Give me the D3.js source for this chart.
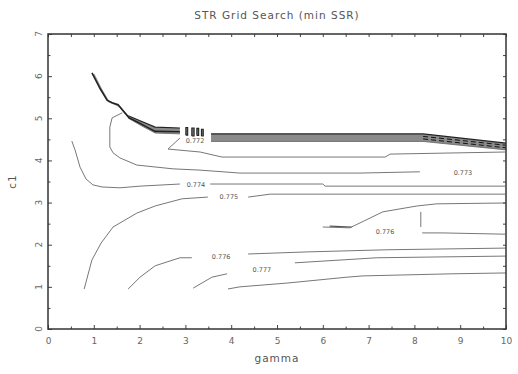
<!DOCTYPE html>
<html>
<head>
<meta charset="utf-8">
<script src="https://cdn.jsdelivr.net/npm/d3@7"></script>
<style>
  body { margin: 0; background: #fff; }
  text { font-family: "DejaVu Sans", sans-serif; }
</style>
</head>
<body>
<div id="chart"></div>
<script>
// axis ticks
const xTicks = [0, 1, 2, 3, 4, 5, 6, 7, 8, 9, 10];
const yTicks = [0, 1, 2, 3, 4, 5, 6, 7];

// contour lines, [gamma, c1]
const ridge = [[0.96, 6.08], [1.14, 5.70], [1.29, 5.43], [1.40, 5.37], [1.53, 5.32], [1.62, 5.20],
  [1.77, 5.01], [1.95, 4.91], [2.16, 4.79], [2.34, 4.69], [2.88, 4.68]];
const ridgeShadow = [[1.00, 6.05], [1.18, 5.66], [1.32, 5.40], [1.45, 5.34], [1.57, 5.28], [1.66, 5.16],
  [1.80, 4.98], [1.98, 4.88], [2.20, 4.76], [2.38, 4.67], [2.88, 4.66]];
const bandLeftTop = [[1.75, 5.06], [2.01, 4.94], [2.34, 4.79], [2.88, 4.77]];
const bandLeftBottom = [[1.75, 5.01], [2.01, 4.84], [2.34, 4.65], [2.88, 4.63]];
const bandRightTop = [[3.56, 4.63], [8.19, 4.63], [10, 4.41]];
const bandRightBottom = [[3.56, 4.45], [8.19, 4.45], [10, 4.25]];
const hatchA = [[8.19, 4.57], [10, 4.36]];
const hatchB = [[8.19, 4.51], [10, 4.30]];
const rings = [
  [[3.01, 4.60], [3.01, 4.78], [3.05, 4.78], [3.05, 4.60], [3.01, 4.60]],
  [[3.14, 4.58], [3.14, 4.77], [3.19, 4.77], [3.19, 4.58], [3.14, 4.58]],
  [[3.25, 4.59], [3.25, 4.76], [3.29, 4.76], [3.29, 4.59], [3.25, 4.59]],
  [[3.35, 4.58], [3.35, 4.74], [3.39, 4.74], [3.39, 4.58], [3.35, 4.58]]
];
const innerLoop = [[1.62, 5.13], [1.40, 5.01], [1.35, 4.79], [1.35, 4.32], [1.42, 4.18], [1.57, 4.06],
  [1.94, 3.89], [2.73, 3.80], [3.32, 3.77], [4.19, 3.70], [6.81, 3.70], [8.12, 3.73]];
const hook = [[2.88, 4.53], [2.62, 4.27], [3.32, 4.20], [3.80, 4.08], [6.31, 4.08], [7.36, 4.08],
  [7.47, 4.15], [9.98, 4.20]];
const c774a = [[0.52, 4.46], [0.59, 4.25], [0.70, 3.84], [0.83, 3.56], [0.98, 3.42], [1.18, 3.37],
  [1.57, 3.35], [2.01, 3.39], [2.88, 3.44]];
const c774b = [[3.54, 3.44], [6.00, 3.44], [6.05, 3.39], [9.98, 3.39]];
const c775a = [[0.79, 0.95], [0.96, 1.64], [1.16, 2.04], [1.42, 2.42], [1.94, 2.75], [2.34, 2.92],
  [2.93, 3.09], [3.49, 3.13]];
const c775b = [[4.37, 3.13], [4.85, 3.20], [9.98, 3.20]];
const c776top = [[6.00, 2.42], [6.59, 2.40], [7.31, 2.78], [8.06, 2.92], [8.49, 2.97], [9.98, 2.99]];
const c776stub = [[6.15, 2.44], [6.63, 2.42]];
const c776vert = [[8.14, 2.78], [8.14, 2.42]];
const c776right = [[8.17, 2.28], [8.60, 2.28], [9.98, 2.25]];
const c776a = [[1.75, 0.95], [2.01, 1.23], [2.34, 1.50], [2.88, 1.69], [3.14, 1.69]];
const c776b = [[4.37, 1.78], [5.68, 1.83], [7.40, 1.88], [10, 1.92]];
const c777a = [[3.17, 0.97], [3.58, 1.23], [3.91, 1.31]];
const c777b = [[5.39, 1.57], [7.18, 1.69], [8.56, 1.71], [10, 1.73]];
const c778 = [[3.93, 0.95], [4.19, 1.00], [5.22, 1.09], [6.53, 1.23], [6.88, 1.26], [8.84, 1.31], [10, 1.33]];
const thinLines = [innerLoop, hook, c774a, c774b, c775a, c775b, c776top, c776vert, c776right,
  c776a, c776b, c777a, c777b, c778];

// contour labels [gamma, c1, text]
const levelLabels = [
  [3.21, 4.46, "0.772"],
  [9.06, 3.70, "0.773"],
  [3.23, 3.42, "0.774"],
  [3.95, 3.13, "0.775"],
  [7.36, 2.30, "0.776"],
  [3.78, 1.71, "0.776"],
  [4.67, 1.40, "0.777"]
];

const W = 518, H = 374;
const margin = { top: 34, right: 12, bottom: 45, left: 48 };
const width = W - margin.left - margin.right;
const height = H - margin.top - margin.bottom;

const svgRoot = d3.select("#chart").append("svg")
  .attr("width", W)
  .attr("height", H);

const svg = svgRoot.append("g")
  .attr("transform", `translate(${margin.left},${margin.top})`);

const x = d3.scaleLinear().domain([0, 10]).range([0, width]);
const y = d3.scaleLinear().domain([0, 7]).range([height, 0]);

const line = d3.line().x(d => x(d[0])).y(d => y(d[1]));

// --- bands of stacked contours ---
const band = (top, bottom) => top.concat(bottom.slice().reverse());
[[bandLeftTop, bandLeftBottom], [bandRightTop, bandRightBottom]].forEach(([t, b]) => {
  svg.append("path")
    .attr("d", line(band(t, b)) + "Z")
    .attr("fill", "#8a8a8a")
    .attr("stroke", "none");
  svg.append("path").attr("d", line(t)).attr("fill", "none").attr("stroke", "#222").attr("stroke-width", 1.2);
  svg.append("path").attr("d", line(b)).attr("fill", "none").attr("stroke", "#666").attr("stroke-width", 0.8);
});

[hatchA, hatchB].forEach(h => {
  svg.append("path")
    .attr("d", line(h))
    .attr("fill", "none")
    .attr("stroke", "#111")
    .attr("stroke-width", 1)
    .attr("stroke-dasharray", "5,3");
});

svg.append("path")
  .attr("d", line(ridgeShadow))
  .attr("fill", "none")
  .attr("stroke", "#999")
  .attr("stroke-width", 1.5);

svg.append("path")
  .attr("d", line(ridge))
  .attr("fill", "none")
  .attr("stroke", "#222")
  .attr("stroke-width", 1.6);

rings.forEach(r => {
  svg.append("path")
    .attr("d", line(r))
    .attr("fill", "#777")
    .attr("stroke", "#222")
    .attr("stroke-width", 1.1);
});

// --- thin contour lines ---
thinLines.forEach(l => {
  svg.append("path")
    .attr("d", line(l))
    .attr("fill", "none")
    .attr("stroke", "#777")
    .attr("stroke-width", 1);
});
svg.append("path")
  .attr("d", line(c776stub))
  .attr("fill", "none")
  .attr("stroke", "#555")
  .attr("stroke-width", 1.2);

svg.selectAll(".lvl")
  .data(levelLabels)
  .enter()
  .append("text")
  .attr("x", d => x(d[0]))
  .attr("y", d => y(d[1]))
  .attr("dy", "0.35em")
  .attr("text-anchor", "middle")
  .attr("font-size", "6.5px")
  .attr("fill", "#555")
  .text(d => d[2]);

// --- frame & ticks ---
const minorX = d3.range(0.5, 10, 1);
const minorY = d3.range(0.5, 7, 1);

const tickStroke = g => g.selectAll("line").attr("stroke", "#444");

svg.append("g")
  .attr("transform", `translate(0,${height})`)
  .call(d3.axisBottom(x).tickValues(xTicks).tickSize(-4).tickPadding(9).tickFormat(d3.format("d")))
  .call(g => g.select(".domain").remove())
  .call(tickStroke)
  .call(g => g.selectAll("text").attr("fill", "#666").attr("font-size", "9px"));

svg.append("g")
  .attr("transform", `translate(0,${height})`)
  .call(d3.axisBottom(x).tickValues(minorX).tickSize(-2.5).tickFormat(""))
  .call(g => g.select(".domain").remove())
  .call(tickStroke);

svg.append("g")
  .call(d3.axisTop(x).tickValues(xTicks.concat(minorX)).tickSize(-3).tickFormat(""))
  .call(g => g.select(".domain").remove())
  .call(tickStroke);

svg.append("g")
  .call(d3.axisLeft(y).tickValues(yTicks).tickSize(-4).tickFormat(""))
  .call(g => g.select(".domain").remove())
  .call(tickStroke);

svg.append("g")
  .call(d3.axisLeft(y).tickValues(minorY).tickSize(-2.5).tickFormat(""))
  .call(g => g.select(".domain").remove())
  .call(tickStroke);

svg.append("g")
  .attr("transform", `translate(${width},0)`)
  .call(d3.axisRight(y).tickValues(yTicks.concat(minorY)).tickSize(-3).tickFormat(""))
  .call(g => g.select(".domain").remove())
  .call(tickStroke);

svg.selectAll(".ylab")
  .data(yTicks)
  .enter()
  .append("text")
  .attr("transform", d => `translate(-6,${y(d)}) rotate(-90)`)
  .attr("text-anchor", "middle")
  .attr("font-size", "9px")
  .attr("fill", "#666")
  .text(d => d);

svg.append("rect")
  .attr("width", width)
  .attr("height", height)
  .attr("fill", "none")
  .attr("stroke", "#333")
  .attr("stroke-width", 1.5);

// --- titles ---
svgRoot.append("text")
  .attr("x", margin.left + width / 2)
  .attr("y", 19)
  .attr("text-anchor", "middle")
  .attr("font-size", "10.5px")
  .attr("letter-spacing", "1px")
  .attr("fill", "#555")
  .text("STR Grid Search (min SSR)");

svgRoot.append("text")
  .attr("x", margin.left + width / 2)
  .attr("y", 362)
  .attr("text-anchor", "middle")
  .attr("font-size", "10.5px")
  .attr("letter-spacing", "1px")
  .attr("fill", "#555")
  .text("gamma");

svgRoot.append("text")
  .attr("transform", `translate(16,${margin.top + height / 2}) rotate(-90)`)
  .attr("text-anchor", "middle")
  .attr("font-size", "10.5px")
  .attr("letter-spacing", "1px")
  .attr("fill", "#555")
  .text("c1");
</script>
</body>
</html>
